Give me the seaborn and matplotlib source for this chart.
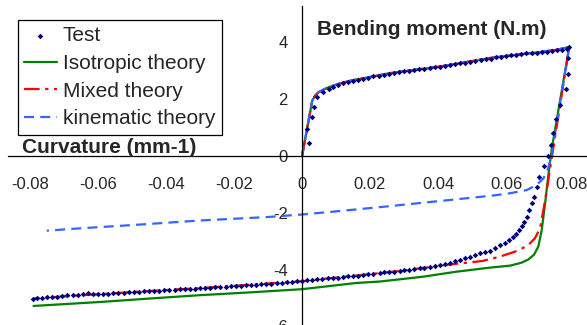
import matplotlib
matplotlib.use("Agg")
import matplotlib.pyplot as plt
import matplotlib.transforms as mtransforms
import pandas as pd
import seaborn as sns

# loading branch shared by the three theories
load_x = [0.0, 0.001, 0.002, 0.003, 0.0038, 0.0048, 0.0062, 0.008, 0.0112, 0.015, 0.020,
          0.026, 0.033, 0.040, 0.047, 0.0553, 0.062, 0.070, 0.075, 0.0786]
load_y = [0.0, 0.65, 1.30, 1.95, 2.12, 2.24, 2.33, 2.43, 2.56, 2.67, 2.78,
          2.92, 3.03, 3.14, 3.28, 3.45, 3.55, 3.66, 3.74, 3.84]

# reverse branches
iso_x = [0.0786, 0.0734, 0.0724, 0.0715, 0.0705, 0.0695, 0.0682, 0.0665, 0.0645, 0.0612,
         0.0553, 0.045, 0.0356, 0.0229, 0.016, 0.0, -0.015, -0.030, -0.045, -0.0594, -0.079]
iso_y = [3.84, 0.21, -0.73, -1.67, -2.61, -3.19, -3.48, -3.65, -3.76, -3.86,
         -3.93, -4.08, -4.25, -4.42, -4.47, -4.69, -4.80, -4.90, -5.02, -5.14, -5.28]

mix_x = [0.0786, 0.0729, 0.0720, 0.0710, 0.0700, 0.0685, 0.0666, 0.0645, 0.0626, 0.058,
         0.0529, 0.045, 0.040, 0.030, 0.020, 0.010, 0.0, -0.010, -0.020, -0.030,
         -0.040, -0.050, -0.060, -0.070, -0.079]
mix_y = [3.84, -0.49, -1.20, -1.90, -2.55, -2.90, -3.13, -3.27, -3.37, -3.55,
         -3.70, -3.80, -3.87, -4.03, -4.16, -4.28, -4.41, -4.49, -4.57, -4.65,
         -4.72, -4.79, -4.87, -4.94, -5.02]

kin_x = [0.0786, 0.0734, 0.0724, 0.0710, 0.0690, 0.0661, 0.0612, 0.0563, 0.0515, 0.0376,
         0.0238, 0.0082, 0.0, -0.0103, -0.030, -0.0497, -0.0644, -0.0751]
kin_y = [3.84, 0.035, -0.43, -0.79, -1.02, -1.20, -1.31, -1.39, -1.45, -1.62,
         -1.79, -1.97, -2.06, -2.15, -2.27, -2.43, -2.54, -2.63]

# test points
test_load_x = [0.0019, 0.0016, 0.0028, 0.0036, 0.0045, 0.0063, 0.0078, 0.0092, 0.0106, 0.0120,
               0.0135, 0.0150, 0.0165, 0.0180, 0.0195, 0.0210, 0.0225, 0.0240, 0.0255, 0.0270,
               0.0285, 0.0300, 0.0315, 0.0330, 0.0345, 0.0360, 0.0375, 0.0390, 0.0405, 0.0420,
               0.0435, 0.0450, 0.0465, 0.0480, 0.0495, 0.0510, 0.0525, 0.0540, 0.0555, 0.0570,
               0.0585, 0.0600, 0.0615, 0.0630, 0.0645, 0.0660, 0.0675, 0.0690, 0.0705, 0.0720,
               0.0735, 0.0750, 0.0765, 0.0778, 0.0786]
test_load_y = [0.47, 0.94, 1.36, 1.72, 2.09, 2.26, 2.36, 2.44, 2.50, 2.56,
               2.60, 2.64, 2.69, 2.72, 2.76, 2.80, 2.83, 2.87, 2.89, 2.92,
               2.96, 2.98, 3.00, 3.03, 3.05, 3.08, 3.10, 3.12, 3.15, 3.17,
               3.20, 3.23, 3.26, 3.29, 3.31, 3.35, 3.38, 3.41, 3.43, 3.47,
               3.49, 3.52, 3.54, 3.57, 3.58, 3.61, 3.63, 3.64, 3.66, 3.68,
               3.70, 3.73, 3.74, 3.77, 3.83]

test_unload_x = [0.0782, 0.0782, 0.0776, 0.0759, 0.0747, 0.0737, 0.0731, 0.0724, 0.0712, 0.0698,
                 0.0690, 0.0682, 0.0676, 0.0669, 0.0661, 0.0653, 0.0646, 0.0639, 0.0629, 0.0620,
                 0.0610, 0.0597, 0.0582, 0.0568, 0.0553]
test_unload_y = [3.44, 2.89, 2.35, 1.80, 1.29, 0.80, 0.39, 0.0, -0.35, -0.73,
                 -1.08, -1.43, -1.67, -1.90, -2.14, -2.31, -2.46, -2.61, -2.75, -2.86,
                 -2.96, -3.07, -3.15, -3.25, -3.33]

test_rev_x = [0.0538, 0.0524, 0.0508, 0.0494, 0.0480, 0.0465, 0.0450, 0.0435, 0.0420, 0.0406,
              0.0390, 0.0375, 0.0360, 0.0347, 0.0330, 0.0315, 0.0300, 0.0288, 0.0270, 0.0255,
              0.0240, 0.0229, 0.0210, 0.0195, 0.0180, 0.0165, 0.0150, 0.0135, 0.0120, 0.0105,
              0.0090, 0.0075, 0.0060, 0.0045, 0.0030, 0.0015, 0.0, -0.0015, -0.0030, -0.0045,
              -0.0060, -0.0075, -0.0090, -0.0105, -0.0120, -0.0135, -0.0150, -0.0165, -0.0180, -0.0195,
              -0.0210, -0.0225, -0.0240, -0.0255, -0.0270, -0.0285, -0.0300, -0.0315, -0.0330, -0.0345,
              -0.0360, -0.0375, -0.0390, -0.0405, -0.0420, -0.0435, -0.0450, -0.0465, -0.0480, -0.0495,
              -0.0510, -0.0525, -0.0540, -0.0555, -0.0570, -0.0585, -0.0600, -0.0615, -0.0630, -0.0645,
              -0.0660, -0.0675, -0.0690, -0.0705, -0.0720, -0.0735, -0.0750, -0.0765, -0.0780, -0.0790]
test_rev_y = [-3.38, -3.43, -3.50, -3.55, -3.60, -3.66, -3.71, -3.75, -3.79, -3.84,
              -3.87, -3.91, -3.93, -3.96, -3.99, -4.01, -4.03, -4.04, -4.07, -4.09,
              -4.10, -4.11, -4.15, -4.17, -4.19, -4.21, -4.23, -4.24, -4.26, -4.28,
              -4.29, -4.31, -4.32, -4.34, -4.36, -4.38, -4.40, -4.41, -4.42, -4.44,
              -4.46, -4.47, -4.49, -4.50, -4.51, -4.53, -4.54, -4.55, -4.56, -4.57,
              -4.59, -4.60, -4.61, -4.63, -4.64, -4.65, -4.66, -4.67, -4.68, -4.69,
              -4.70, -4.71, -4.72, -4.73, -4.74, -4.75, -4.76, -4.77, -4.78, -4.79,
              -4.80, -4.81, -4.82, -4.84, -4.85, -4.86, -4.86, -4.85, -4.83, -4.86,
              -4.89, -4.90, -4.91, -4.93, -4.95, -4.96, -4.97, -4.99, -5.01, -5.02]

x_ticks = [-0.08, -0.06, -0.04, -0.02, 0.0, 0.02, 0.04, 0.06, 0.08]
x_labels = ['-0.08', '-0.06', '-0.04', '-0.02', '0', '0.02', '0.04', '0.06', '0.08']
y_ticks = [-6, -4, -2, 0, 2, 4]
y_labels = ['-6', '-4', '-2', '0', '2', '4']


def curve(xs, ys):
    return pd.DataFrame({'x': xs, 'y': ys})


sns.set_style("white")
plt.rcParams['font.family'] = ['Liberation Sans', 'DejaVu Sans']

fig = plt.figure(figsize=(5.87, 3.25), dpi=100)
ax = fig.add_axes([8 / 587, -1.4 / 325, 600 / 587, 320.9 / 325])

iso_df = curve(load_x + iso_x[1:], load_y + iso_y[1:])
mix_df = curve(load_x + mix_x[1:], load_y + mix_y[1:])
kin_df = curve(load_x + kin_x[1:], load_y + kin_y[1:])
test_df = curve(test_load_x + test_unload_x + test_rev_x,
                test_load_y + test_unload_y + test_rev_y)

sns.lineplot(data=iso_df, x='x', y='y', sort=False, estimator=None, ax=ax,
             color='#008000', linewidth=1.6, label='Isotropic theory')
sns.lineplot(data=mix_df, x='x', y='y', sort=False, estimator=None, ax=ax,
             color='#FF0000', linewidth=1.6, linestyle=(0, (7, 2.5, 1.5, 2.5)),
             label='Mixed theory')
sns.lineplot(data=kin_df, x='x', y='y', sort=False, estimator=None, ax=ax,
             color='#3366FF', linewidth=1.6, linestyle=(0, (4.5, 2.8)),
             label='kinematic theory')
sns.scatterplot(data=test_df, x='x', y='y', ax=ax, marker='D', s=8,
                color='#000080', linewidth=0, label='Test', zorder=5)

ax.set_xlim(-0.0865, 0.09)
ax.set_ylim(-6, 5.3)

for side in ['top', 'right']:
    ax.spines[side].set_visible(False)
for side in ['left', 'bottom']:
    ax.spines[side].set_position(('data', 0))
    ax.spines[side].set_color('black')
    ax.spines[side].set_linewidth(0.9)

ax.set_xticks(x_ticks)
ax.set_xticklabels(x_labels)
ax.set_yticks(y_ticks)
ax.set_yticklabels(y_labels)
ax.tick_params(axis='x', direction='out', length=4.7, width=0.9, pad=10.5,
               labelsize=12, color='black')
ax.tick_params(axis='y', direction='out', length=4.7, width=0.9, pad=5.5,
               labelsize=12, color='black')
ax.set_xlabel('')
ax.set_ylabel('')

# the last x label sits against the right edge, as in the source
last = ax.get_xticklabels()[-1]
last.set_transform(last.get_transform() +
                   mtransforms.ScaledTranslation(-3 / 100, 0, fig.dpi_scale_trans))

ax.text(0.0044, 4.26, 'Bending moment (N.m)', fontsize=15, fontweight='bold',
        ha='left', va='baseline')
ax.text(-0.0824, 0.095, 'Curvature (mm-1)', fontsize=15, fontweight='bold',
        ha='left', va='baseline')

handles, labels = ax.get_legend_handles_labels()
lookup = dict(zip(labels, handles))
order = ['Test', 'Isotropic theory', 'Mixed theory', 'kinematic theory']
leg = ax.legend([lookup[k] for k in order], order, loc='upper left',
                bbox_to_anchor=(18 / 587, 1 - 20 / 325), bbox_transform=fig.transFigure,
                fontsize=15, frameon=True, fancybox=False, edgecolor='black',
                borderpad=0.3, labelspacing=0.42, handlelength=1.55, handletextpad=0.3,
                borderaxespad=0, framealpha=1)
leg.get_frame().set_linewidth(0.9)

fig.savefig('out.png', dpi=100)
